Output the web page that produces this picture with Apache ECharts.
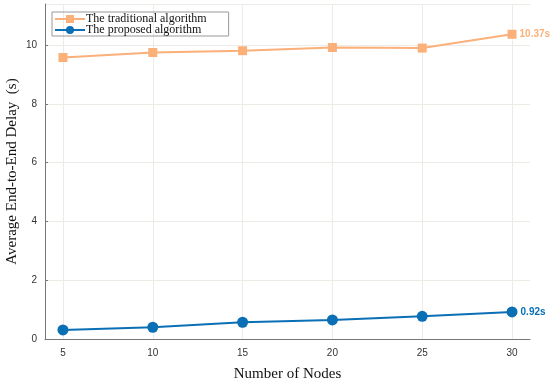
<!DOCTYPE html>
<html><head><meta charset="utf-8">
<script src="https://cdn.jsdelivr.net/npm/echarts@6/dist/echarts.min.js"></script>
<style>html,body{margin:0;padding:0;background:#fff}#c{width:550px;height:383px}</style>
</head><body><div id="c"></div>
<script>
const nodes = [5, 10, 15, 20, 25, 30];
const traditional = [9.58, 9.75, 9.81, 9.92, 9.90, 10.37];
const proposed = [0.31, 0.40, 0.57, 0.65, 0.77, 0.92];
const seriesNames = ['The traditional algorithm', 'The proposed algorithm'];
const orange = '#FBB07A', blue = '#0A6FB5';
const chart = echarts.init(document.getElementById('c'));
function pairs(v){ return nodes.map((n,i)=>[n, v[i]]); }
function lbl(color){
  return {show:true, position:'right', distance:3, color:color, fontWeight:'bold', fontSize:10, fontFamily:'Liberation Sans',
    formatter: p => p.dataIndex === nodes.length-1 ? p.value[1] + 's' : ''};
}
chart.setOption({
  animation:false,
  grid:{left:45, right:20, top:4, bottom:44, containLabel:false, outerBoundsMode:'none'},
  legend:{orient:'vertical', left:52, top:12, itemGap:-1, itemWidth:30, itemHeight:10,
    borderColor:'#999', borderWidth:1, padding:[1,22,0,2],
    textStyle:{fontFamily:'Liberation Serif', fontSize:12, color:'#111', padding:[0,0,0,-4]},
    data: seriesNames},
  xAxis:{type:'value', min:4, max:31,
    name:'Number of Nodes', nameLocation:'middle', nameGap:28, nameMoveOverlap:false,
    nameTextStyle:{fontFamily:'Liberation Serif', fontSize:15, color:'#111'},
    axisLine:{lineStyle:{color:'#777'}},
    axisTick:{show:false, customValues:nodes},
    axisLabel:{color:'#333', fontSize:10, margin:9, customValues:nodes},
    splitLine:{show:true, lineStyle:{color:'#eeeae6'}}},
  yAxis:{type:'value', min:0, max:11.4, interval:2,
    name:'Average End-to-End Delay  (s)', nameLocation:'middle', nameGap:25, nameMoveOverlap:false,
    nameTextStyle:{fontFamily:'Liberation Serif', fontSize:15, color:'#111'},
    axisLine:{show:true, lineStyle:{color:'#777'}},
    axisTick:{show:true, inside:true, length:3, lineStyle:{color:'#777'}},
    axisLabel:{color:'#333', fontSize:10, margin:8, showMaxLabel:false},
    splitLine:{show:true, lineStyle:{color:'#eeeae6'}}},
  series:[
    {name:seriesNames[0], type:'line', data:pairs(traditional), symbol:'rect', symbolSize:9,
      lineStyle:{color:orange, width:2}, itemStyle:{color:orange}, label:lbl(orange)},
    {name:seriesNames[1], type:'line', data:pairs(proposed), symbol:'circle', symbolSize:11,
      lineStyle:{color:blue, width:2}, itemStyle:{color:blue}, label:lbl(blue)}
  ]
});
</script></body></html>
